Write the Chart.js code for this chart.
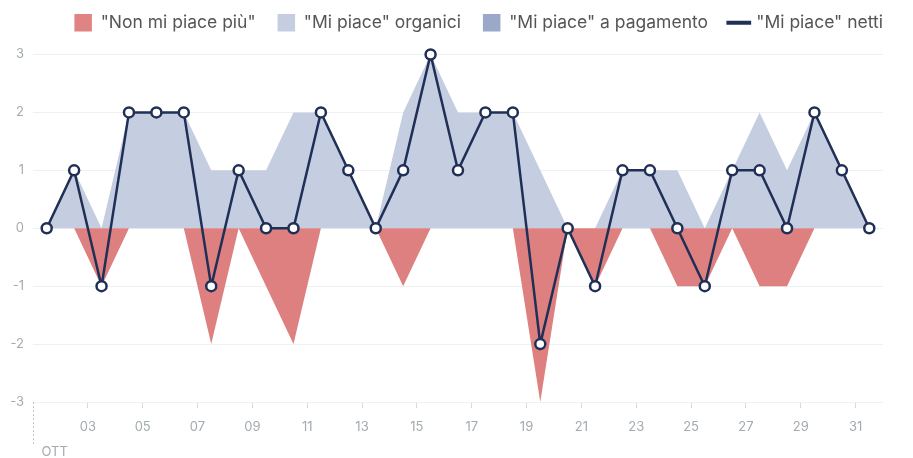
<!DOCTYPE html>
<html>
<head>
<meta charset="utf-8">
<script src="https://cdn.jsdelivr.net/npm/chart.js@4.4.1/dist/chart.umd.min.js"></script>
<style>
  html, body { margin: 0; padding: 0; background: #fff; }
  #wrap { width: 913px; height: 458px; }
</style>
</head>
<body>
<div id="wrap"><canvas id="likesChart"></canvas></div>
<script>
// giorni di ottobre
var days = [1, 2, 3, 4, 5, 6, 7, 8, 9, 10, 11, 12, 13, 14, 15, 16, 17, 18, 19, 20, 21, 22, 23, 24, 25, 26, 27, 28, 29, 30, 31];
var nonMiPiace = [0, 0, -1, 0, 0, 0, -2, 0, -1, -2, 0, 0, 0, -1, 0, 0, 0, 0, -3, 0, -1, 0, 0, -1, -1, 0, -1, -1, 0, 0, 0];
var organici = [0, 1, 0, 2, 2, 2, 1, 1, 1, 2, 2, 1, 0, 2, 3, 2, 2, 2, 1, 0, 0, 1, 1, 1, 0, 1, 2, 1, 2, 1, 0];
var aPagamento = [0, 0, 0, 0, 0, 0, 0, 0, 0, 0, 0, 0, 0, 0, 0, 0, 0, 0, 0, 0, 0, 0, 0, 0, 0, 0, 0, 0, 0, 0, 0];
var netti = [0, 1, -1, 2, 2, 2, -1, 1, 0, 0, 2, 1, 0, 1, 3, 1, 2, 2, -2, 0, -1, 1, 1, 0, -1, 1, 1, 0, 2, 1, 0];
var tickDays = [3, 5, 7, 9, 11, 13, 15, 17, 19, 21, 23, 25, 27, 29, 31];
var tickLabels = ['03', '05', '07', '09', '11', '13', '15', '17', '19', '21', '23', '25', '27', '29', '31'];
var monthLabel = 'OTT';
var seriesLabels = ['"Non mi piace più"', '"Mi piace" organici', '"Mi piace" a pagamento', '"Mi piace" netti'];
var legendColors = ['#df8383', '#c5cde0', '#9aa8c9', '#1f2f55'];

var FONT = "Inter, 'Liberation Sans', Arial, sans-serif";

// each day's value sits at midday, ticks sit at midnight
function toPoints(vals) {
  return days.map(function (d, i) { return { x: d + 0.5, y: vals[i] }; });
}

function areaSet(label, vals, color) {
  return {
    label: label,
    data: toPoints(vals),
    fill: 'origin',
    backgroundColor: color,
    borderColor: color,
    borderWidth: 0,
    pointRadius: 0,
    tension: 0
  };
}

var ctx = document.getElementById('likesChart').getContext('2d');

// more room under the legend, and no trailing gap after the last item
var legendSpace = {
  id: 'legendSpace',
  beforeInit: function (chart) {
    var legend = chart.legend;
    var fit = legend.fit;
    var draw = legend.draw;
    legend.fit = function () {
      fit.call(this);
      this.height += 13;
    };
    legend.draw = function () {
      var r = this.right;
      this.right = r + this.options.labels.padding;
      draw.call(this);
      this.right = r;
    };
  }
};

var monthMarker = {
  id: 'monthMarker',
  afterDraw: function (chart) {
    var c = chart.ctx;
    var x = Math.round(chart.scales.x.getPixelForValue(days[0])) + 0.5;
    var bottom = chart.chartArea.bottom;
    c.save();
    c.strokeStyle = '#c3c9cd';
    c.lineWidth = 1;
    c.setLineDash([2, 2]);
    c.beginPath();
    c.moveTo(x, bottom);
    c.lineTo(x, bottom + 42);
    c.stroke();
    c.setLineDash([]);
    c.fillStyle = '#a3abb0';
    c.font = '13px ' + FONT;
    c.textBaseline = 'middle';
    c.fillText(monthLabel, x + 8, bottom + 50);
    c.restore();
  }
};

var likesChart = new Chart(ctx, {
  type: 'line',
  data: {
    datasets: [
      areaSet(seriesLabels[0], nonMiPiace, '#de8080'),
      areaSet(seriesLabels[1], organici, '#c5cde0'),
      areaSet(seriesLabels[2], aPagamento, '#9aa8c9'),
      {
        label: seriesLabels[3],
        data: toPoints(netti),
        fill: false,
        clip: 10,
        borderColor: '#1f2f55',
        borderWidth: 2.5,
        pointRadius: 5,
        pointBackgroundColor: '#fff',
        pointBorderColor: '#1f2f55',
        pointBorderWidth: 2.5,
        tension: 0
      }
    ]
  },
  options: {
    responsive: true,
    maintainAspectRatio: false,
    animation: false,
    layout: { padding: { top: -8, right: 30, left: 0, bottom: 0 } },
    plugins: {
      filler: { drawTime: 'beforeDatasetsDraw' },
      tooltip: { enabled: false },
      legend: {
        position: 'top',
        align: 'end',
        labels: {
          usePointStyle: true,
          padding: 22,
          color: '#555',
          font: { family: FONT, size: 17.5 },
          generateLabels: function (chart) {
            return chart.data.datasets.map(function (ds, i) {
              var isLine = i === 3;
              return {
                text: ds.label,
                fillStyle: legendColors[i],
                strokeStyle: legendColors[i],
                lineWidth: isLine ? 4 : 0,
                pointStyle: isLine ? 'line' : 'rect',
                hidden: !chart.isDatasetVisible(i),
                datasetIndex: i,
                fontColor: '#555'
              };
            });
          }
        }
      }
    },
    scales: {
      x: {
        type: 'linear',
        min: days[0],
        max: days[days.length - 1] + 1,
        afterBuildTicks: function (scale) {
          scale.ticks = tickDays.map(function (v) { return { value: v }; });
        },
        afterFit: function (scale) { scale.height = 56; },
        grid: { drawOnChartArea: false, drawTicks: true, tickLength: 6, color: '#d5d9dc' },
        border: { display: false },
        ticks: {
          autoSkip: false,
          maxRotation: 0,
          padding: 11,
          color: '#a3abb0',
          font: { family: FONT, size: 13 },
          callback: function (value) {
            var i = tickDays.indexOf(value);
            return i >= 0 ? tickLabels[i] : '';
          }
        }
      },
      y: {
        min: -3,
        max: 3,
        afterFit: function (scale) { scale.width = 33; },
        grid: { color: '#eef0f1', drawTicks: false },
        border: { display: false },
        ticks: {
          stepSize: 1,
          padding: 9,
          color: '#a3abb0',
          font: { family: FONT, size: 13 }
        }
      }
    }
  },
  plugins: [legendSpace, monthMarker]
});
</script>
</body>
</html>
